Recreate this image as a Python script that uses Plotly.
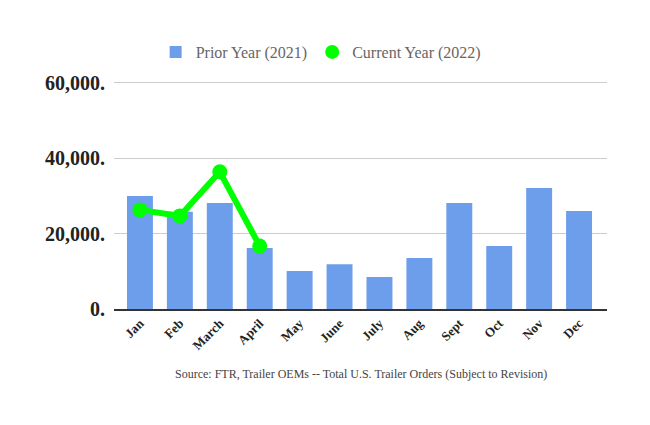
import plotly.graph_objects as go

months = ["Jan", "Feb", "March", "April", "May", "June", "July", "Aug", "Sept", "Oct", "Nov", "Dec"]
prior_2021 = [30000, 25800, 28100, 16200, 10100, 11900, 8500, 13500, 28100, 16700, 32100, 26000]
current_months = ["Jan", "Feb", "March", "April"]
current_2022 = [26300, 24700, 36400, 16700]
y_ticks = [0, 20000, 40000, 60000]
y_tick_labels = ["0.", "20,000.", "40,000.", "60,000."]

fig = go.Figure()
fig.add_trace(go.Bar(
    x=months, y=prior_2021, name="Prior Year (2021)",
    marker=dict(color="#6d9eeb", line=dict(width=0)),
))
fig.add_trace(go.Scatter(
    x=current_months, y=current_2022, name="Current Year (2022)",
    mode="lines+markers", showlegend=False,
    line=dict(color="#00ff00", width=6),
    marker=dict(color="#00ff00", size=15),
))
# legend entry (marker only, as in the reference)
fig.add_trace(go.Scatter(
    x=[None], y=[None], name="Current Year (2022)", mode="markers",
    marker=dict(color="#00ff00", size=14),
))

fig.update_layout(
    width=650, height=425,
    margin=dict(l=106, r=51, t=73, b=124, autoexpand=False),
    paper_bgcolor="white", plot_bgcolor="white",
    bargap=0.35,
    font=dict(family="Liberation Serif, Times New Roman, serif", color="#222"),
    showlegend=True,
    legend=dict(
        orientation="h", xref="container", x=0.481, xanchor="center",
        yref="container", y=1 - 44 / 425, yanchor="middle",
        font=dict(size=16, color="#666"),
    ),
    xaxis=dict(
        type="category", range=[-0.65, 11.7], automargin=False,
        tickangle=-45, tickfont=dict(size=13, color="#222", family="Liberation Serif", weight="bold"),
        showline=True, linecolor="#333", linewidth=1.5, ticks="",
        showgrid=False,
    ),
    yaxis=dict(
        range=[0, 60500], tickvals=y_ticks, ticktext=y_tick_labels, automargin=False,
        tickfont=dict(size=20, color="#222", family="Liberation Serif", weight="bold"),
        showgrid=True, gridcolor="#cccccc", gridwidth=1,
        zeroline=False, showline=False, ticks="", ticklabelstandoff=8,
    ),
    annotations=[dict(
        text="Source: FTR, Trailer OEMs -- Total U.S. Trailer Orders (Subject to Revision)",
        xref="paper", yref="paper", x=0.5, y=-(373 - 309) / 226, xanchor="center", yanchor="middle",
        showarrow=False, font=dict(size=12, color="#444"),
    )],
)

fig.write_html("out.html")
